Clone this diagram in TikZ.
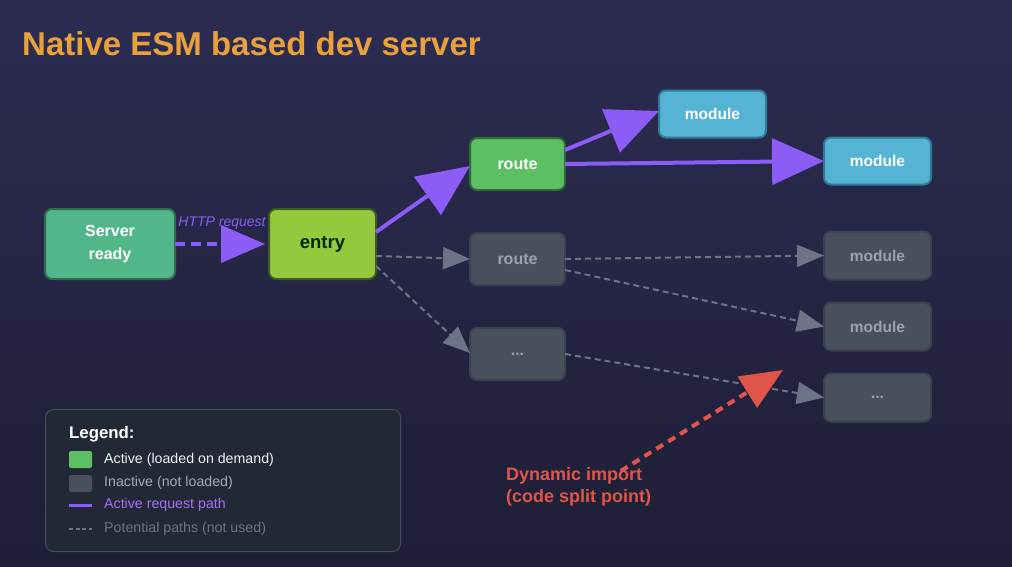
\documentclass[tikz,border=0pt]{standalone}
\usepackage{fontspec}
\setmainfont{Liberation Sans}
\usetikzlibrary{positioning}
\usetikzlibrary{arrows.meta}
\definecolor{bgtop}{HTML}{2C2C52}
\definecolor{bgbottom}{HTML}{1E1E36}
\definecolor{titleorange}{HTML}{E9A23B}
\definecolor{servergreen}{HTML}{52B788}
\definecolor{serveredge}{HTML}{2F6B50}
\definecolor{entrygreen}{HTML}{95C93D}
\definecolor{entryedge}{HTML}{3D5A22}
\definecolor{routegreen}{HTML}{5CBF63}
\definecolor{routeedge}{HTML}{2E6A36}
\definecolor{modblue}{HTML}{55B4D4}
\definecolor{modedge}{HTML}{2F7C96}
\definecolor{idlefill}{HTML}{4A4F5C}
\definecolor{idleedge}{HTML}{3C4150}
\definecolor{idletext}{HTML}{9CA1AB}
\definecolor{reqpurple}{HTML}{8B5CF6}
\definecolor{pathgray}{HTML}{6E7385}
\definecolor{splitred}{HTML}{E0554A}
\definecolor{legendfill}{HTML}{232836}
\definecolor{legendedge}{HTML}{474C5C}
\tikzset{node distance=94pt,   % gap between a box and the next column
    chunk/.style={             % common look of every module box
        rectangle,
        rounded corners=7pt,
        line width=2pt,
        inner sep=0pt,
        outer sep=0pt,
        font=\bfseries\fontsize{16}{19}\selectfont},
    activebox/.style={chunk, fill=routegreen, draw=routeedge, text=white},
    idlebox/.style={chunk, fill=idlefill, draw=idleedge, text=idletext},
    modbox/.style={chunk, fill=modblue, draw=modedge, text=white,
        minimum width=107pt, minimum height=47pt, font=\bfseries\fontsize{15.5}{18}\selectfont},
    hotpath/.style={           % request that is really made
        draw=reqpurple,
        line width=4pt,
        -{Triangle[length=52pt,width=46pt]}},
    coldpath/.style={          % import that is never fetched
        draw=pathgray,
        line width=2pt,
        dash pattern=on 6pt off 4pt,
        -{Triangle[length=27pt,width=22pt]}},
    legendtext/.style={anchor=west, inner sep=0pt, font=\fontsize{14.2}{17}\selectfont}}

\begin{document}
\begin{tikzpicture}[x=1pt, y=-1pt]
    \shade[top color=bgtop, bottom color=bgbottom] (0,0) rectangle (1012,566);
    \useasboundingbox (0,0) rectangle (1012,566);

    \node[anchor=west, inner sep=0pt, text=titleorange, font=\bfseries\fontsize{33}{36}\selectfont] (title) at (22,44) {Native ESM based dev server};

    \node[chunk, fill=servergreen, draw=serveredge, text=white, align=center,
        minimum width=130pt, minimum height=70pt] (server) at (110,244) {Server\\[4pt]ready};
    \node[chunk, fill=entrygreen, draw=entryedge, text=black!85!green,
        minimum width=107pt, minimum height=70pt, font=\bfseries\fontsize{18.5}{21}\selectfont,
        right=94pt of server] (entry) {entry};

    \node[activebox, minimum width=95pt, minimum height=52pt, right=of entry, yshift=80pt] (route) {route};
    \node[idlebox, minimum width=95pt, minimum height=52pt, right=of entry, yshift=-15pt] (route2) {route};
    \node[idlebox, minimum width=95pt, minimum height=52pt, right=of entry, yshift=-110pt] (more) {...};

    \node[modbox, right=of route, yshift=50pt] (modA) {module};
    \node[modbox, right=58pt of modA, yshift=-47pt] (modB) {module};
    \node[idlebox, minimum width=107pt, minimum height=48pt, font=\bfseries\fontsize{15.5}{18}\selectfont,
        below=47pt of modB] (modC) {module};
    \node[idlebox, minimum width=107pt, minimum height=48pt, font=\bfseries\fontsize{15.5}{18}\selectfont,
        below=23pt of modC] (modD) {module};
    \node[idlebox, minimum width=107pt, minimum height=48pt, below=23pt of modD] (more2) {...};

    % active request path
    \draw[hotpath, dash pattern=on 10pt off 6pt, -{Triangle[length=44pt,width=37pt]}, shorten >=4pt]
        (server) -- node[above=9pt, text=reqpurple, font=\itshape\fontsize{14}{16}\selectfont] {HTTP request} (entry);
    \draw[hotpath] ([yshift=12pt]entry.east) -- ([yshift=-2pt]route.west);
    \draw[hotpath] ([yshift=14pt]route.east) -- ([yshift=3pt]modA.west);
    \draw[hotpath] (route.east) -- (modB.west);

    % paths that are not taken
    \draw[coldpath] ([yshift=-12pt]entry.east) -- (route2.west);
    \draw[coldpath] ([yshift=-22pt]entry.east) -- ([yshift=1pt]more.west);
    \draw[coldpath] (route2.east) -- (modC.west);
    \draw[coldpath] ([yshift=-11pt]route2.east) -- (modD.west);
    \draw[coldpath] (more.east) -- (more2.west);

    % code split note
    \node[anchor=north west, align=left, inner sep=0pt, text=splitred,
        font=\bfseries\fontsize{18}{22}\selectfont] (splitnote) at (506,467) {Dynamic import\\(code split point)};
    \coordinate (splittip) at (783,370);
    \draw[draw=splitred, line width=4pt, dash pattern=on 8pt off 6pt, -{Triangle[length=42pt,width=36pt]}]
        ([xshift=42pt,yshift=-4pt]splitnote.north) -- (splittip);

    % legend
    \node[anchor=north west, draw=legendedge, fill=legendfill, line width=1pt, rounded corners=8pt,
        minimum width=355pt, minimum height=142pt] (legend) at (45,409) {};
    \node[legendtext, text=white, font=\bfseries\fontsize{16.8}{19}\selectfont] (legendtitle) at (69,434) {Legend:};
    \node[fill=routegreen, rounded corners=2pt, minimum width=23pt, minimum height=17pt, inner sep=0pt] (swactive) at (80.5,459.5) {};
    \node[legendtext, text=white!90!gray] (lgactive) at (104,460) {Active (loaded on demand)};
    \node[fill=idlefill, rounded corners=2pt, minimum width=23pt, minimum height=17pt, inner sep=0pt] (swidle) at (80.5,483.5) {};
    \node[legendtext, text=idletext!90!white] (lgidle) at (104,483) {Inactive (not loaded)};
    \draw[reqpurple, line width=3pt] (69,505) -- (92,505);
    \node[legendtext, text=reqpurple!85!white] (lgreq) at (104,505) {Active request path};
    \draw[pathgray, line width=2pt, dash pattern=on 4pt off 2.5pt] (69,529) -- (92,529);
    \node[legendtext, text=pathgray] (lgpot) at (104,529) {Potential paths (not used)};
\end{tikzpicture}
\end{document}
